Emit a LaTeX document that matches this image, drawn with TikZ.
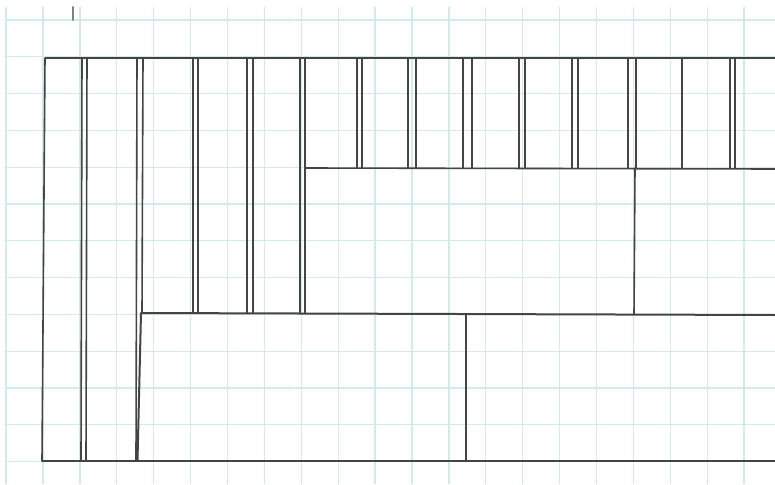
\documentclass[tikz,border=0pt]{standalone}
\definecolor{gridc}{RGB}{212,234,232}
\definecolor{penc}{RGB}{68,68,68}
\begin{document}
\begin{tikzpicture}[x=1pt,y=-1pt,
  gridline/.style={draw=gridc,line width=1.3pt},
  pen/.style={draw=penc,line width=1.6pt,line cap=round,line join=round}]
\useasboundingbox (0,0) rectangle (775,484);
\fill[white] (0,0) rectangle (775,484);
% graph paper
\foreach \k in {0,...,19} \draw[gridline] ({43+36.9*\k},7) -- ({43+36.9*\k},484);
\draw[gridline] (6,7) -- (6,484);
\foreach \k in {0,...,12} \draw[gridline] (7,{20+36.8*\k}) -- (775,{20+36.8*\k});
% small tick at top
\draw[pen,line width=2pt,draw=black!50] (73,7) -- (73,20);
% key points
\coordinate (TL) at (45,58);
\coordinate (BL) at (42,461);
\coordinate (TR) at (775,58);
\coordinate (BR) at (775,461);
% outer frame
\draw[pen] (TR) -- (TL) -- (BL) -- (BR);
% full-height pair
\draw[pen] (82,58) -- (81,461);
\draw[pen] (87,58) -- (86,461);
% second pair and lower box
\draw[pen] (137,58) -- (136,461);
\draw[pen] (143,58) -- (142,313);
\coordinate (LB1) at (141,313);
\coordinate (LB2) at (775,315);
\draw[pen,line width=2pt] (137.5,461) -- (LB1) -- (LB2);
\draw[pen] (466,314) -- (466,461);
% pairs down to the lower box
\foreach \a/\b in {193/198,247/253,300/305}{
  \draw[pen] (\a,58) -- (\a,313);
  \draw[pen] (\b,58) -- (\b,313);
}
% middle box
\coordinate (MB1) at (305,168);
\coordinate (MB2) at (775,169);
\draw[pen] (MB1) -- (MB2);
\draw[pen] (635,168) -- (634,314);
% pairs down to the middle box
\foreach \a/\b in {357/362,408/416,463/472,519/525,572/578,628/636,730/735}{
  \draw[pen] (\a,58) -- (\a,168);
  \draw[pen] (\b,58) -- (\b,168);
}
\draw[pen] (682,58) -- (682,168);
\end{tikzpicture}
\end{document}
